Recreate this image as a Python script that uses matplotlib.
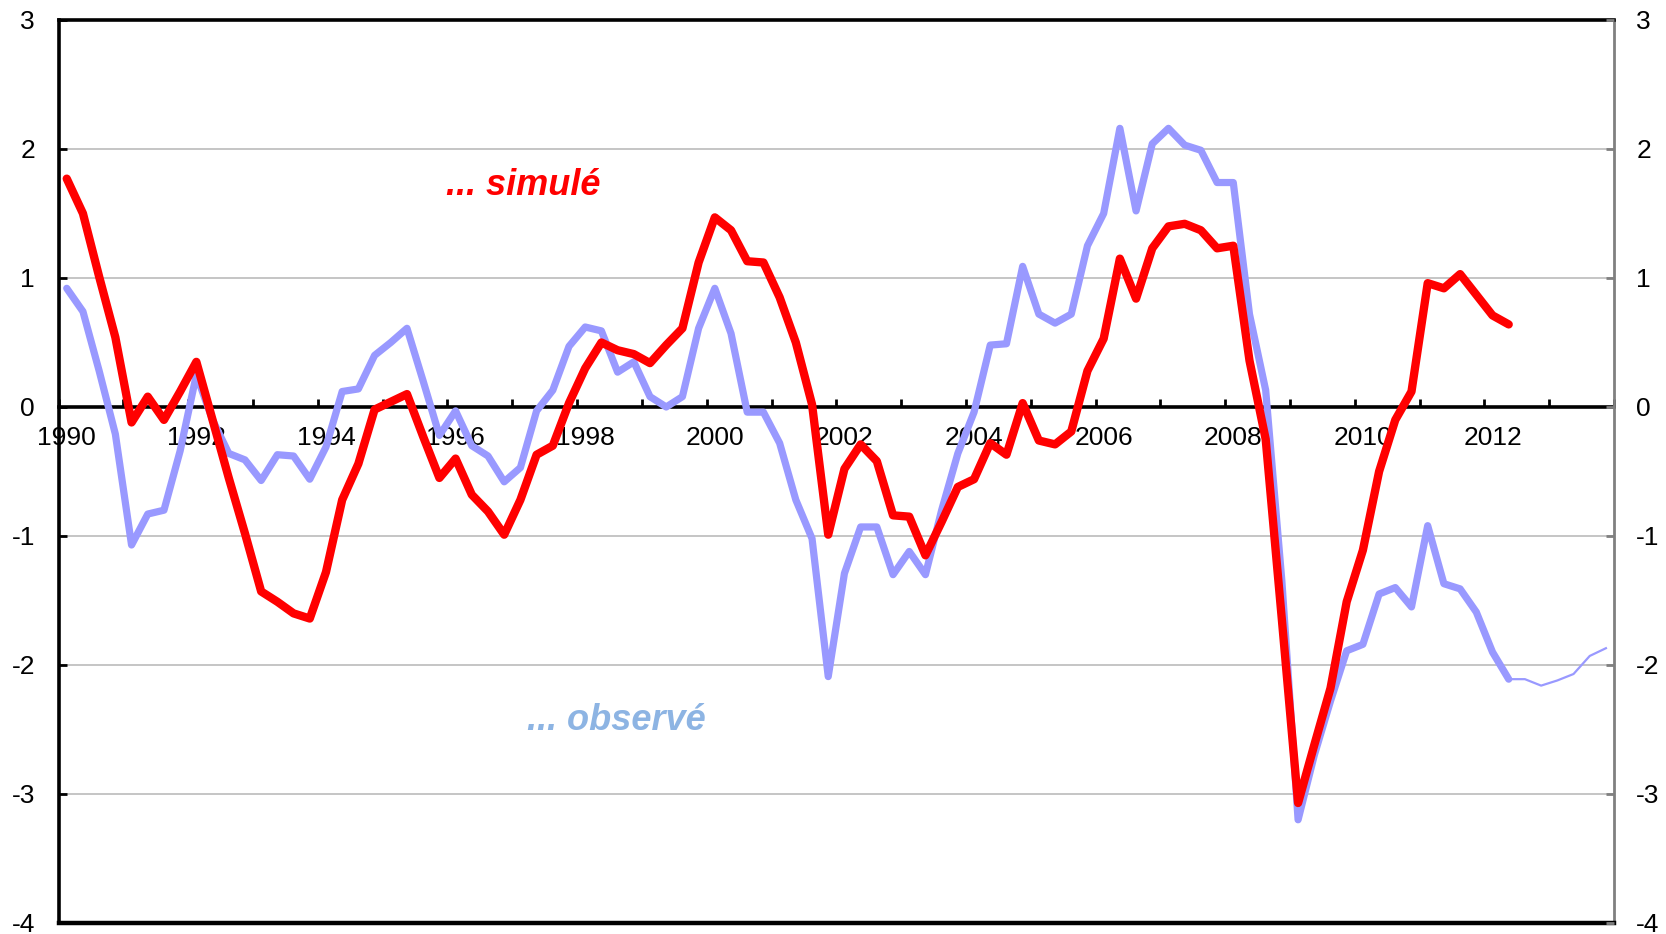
import numpy as np
import matplotlib
matplotlib.use("Agg")
import matplotlib.pyplot as plt
from matplotlib.ticker import FixedLocator, NullFormatter

plt.rcParams["font.family"] = ["Liberation Sans", "DejaVu Sans"]
plt.rcParams["axes.unicode_minus"] = False

# ---- data: quarterly, 1990Q1 .. 2013Q4 ----
years = list(range(1990, 2014))
year_labels = [str(y) for y in range(1990, 2013, 2)]

# simulé: 1990Q1 .. 2012Q2
simule = [1.77, 1.50, 1.01, 0.54, -0.12, 0.08, -0.10, 0.12,
          0.35, -0.10, -0.55, -0.98, -1.43, -1.51, -1.60, -1.64,
          -1.28, -0.72, -0.44, -0.02, 0.04, 0.10, -0.23, -0.55,
          -0.40, -0.68, -0.81, -0.99, -0.72, -0.37, -0.30, 0.03,
          0.30, 0.50, 0.44, 0.41, 0.34, 0.48, 0.61, 1.12,
          1.47, 1.37, 1.13, 1.12, 0.85, 0.50, 0.02, -0.99,
          -0.48, -0.29, -0.42, -0.84, -0.85, -1.15, -0.89, -0.62,
          -0.56, -0.28, -0.37, 0.03, -0.26, -0.29, -0.19, 0.28,
          0.53, 1.15, 0.84, 1.23, 1.40, 1.42, 1.37, 1.23,
          1.25, 0.36, -0.25, -1.65, -3.07, -2.62, -2.18, -1.51,
          -1.11, -0.50, -0.10, 0.12, 0.96, 0.92, 1.03, 0.87,
          0.71, 0.64]

# observé: 1990Q1 .. 2012Q2 (thick line)
observe = [0.92, 0.74, 0.28, -0.21, -1.07, -0.83, -0.80, -0.34,
           0.25, -0.10, -0.36, -0.41, -0.57, -0.37, -0.38, -0.56,
           -0.31, 0.12, 0.14, 0.40, 0.50, 0.61, 0.20, -0.22,
           -0.03, -0.30, -0.38, -0.58, -0.47, -0.03, 0.13, 0.47,
           0.62, 0.59, 0.27, 0.35, 0.08, 0.00, 0.08, 0.61,
           0.92, 0.57, -0.04, -0.04, -0.28, -0.72, -1.02, -2.09,
           -1.29, -0.93, -0.93, -1.30, -1.12, -1.30, -0.80, -0.36,
           -0.04, 0.48, 0.49, 1.09, 0.72, 0.65, 0.72, 1.25,
           1.50, 2.16, 1.52, 2.04, 2.16, 2.03, 1.99, 1.74,
           1.74, 0.72, 0.13, -1.35, -3.20, -2.70, -2.28, -1.89,
           -1.84, -1.45, -1.40, -1.55, -0.92, -1.37, -1.41, -1.59,
           -1.90, -2.11]

# observé, thin continuation: 2012Q2 .. 2013Q4
observe_tail = [-2.11, -2.11, -2.16, -2.12, -2.07, -1.93, -1.87]

RED = "#FF0000"
BLUE = "#9999FF"
BLUE_TXT = "#8DB4E3"
GRID = "#C0C0C0"

n_q = len(years) * 4
x_sim = np.arange(len(simule))
x_obs = np.arange(len(observe))
x_tail = np.arange(len(observe) - 1, len(observe) - 1 + len(observe_tail))

fig = plt.figure(figsize=(16.66, 9.34), dpi=100)
ax = fig.add_axes([0.0352, 0.0118, 0.9336, 0.9668])

ax.set_xlim(-0.5, n_q - 0.5)
ax.set_ylim(-4, 3)

# grid + axes frame
ax.set_yticks(range(-4, 4))
ax.yaxis.grid(True, color=GRID, linewidth=1.3)
ax.set_axisbelow(True)

ax.spines["bottom"].set_position(("data", 0))
ax.spines["bottom"].set_linewidth(2.6)
ax.spines["bottom"].set_zorder(1.5)
ax.spines["left"].set_linewidth(2.6)
ax.spines["top"].set_linewidth(2.6)
ax.spines["right"].set_color("#808080")
ax.spines["right"].set_linewidth(2)
ax.axhline(-4, color="black", linewidth=3.2, clip_on=False, zorder=5)

# x axis: tick marks between years, labels every other year
ax.xaxis.set_minor_locator(FixedLocator(np.arange(-0.5, n_q, 4)))
ax.xaxis.set_minor_formatter(NullFormatter())
ax.set_xticks(np.arange(0, 8 * len(year_labels), 8))
ax.set_xticklabels(year_labels)
ax.tick_params(axis="x", which="major", length=0, pad=14, labelsize=19)
ax.tick_params(axis="x", which="minor", direction="in", length=6,
               width=2, color="black")

ax.tick_params(axis="y", direction="in", length=6, width=2, pad=17,
               labelsize=19)

# right axis, same scale
ax2 = ax.twinx()
ax2.set_ylim(-4, 3)
ax2.set_yticks(range(-4, 4))
ax2.tick_params(axis="y", direction="in", length=6, width=2,
                color="#808080", pad=16, labelsize=19)
for s in ["left", "top", "bottom", "right"]:
    ax2.spines[s].set_visible(False)

# series
ax.plot(x_obs, observe, color=BLUE, linewidth=5.2, zorder=3,
        solid_joinstyle="round", solid_capstyle="round")
ax.plot(x_tail, observe_tail, color=BLUE, linewidth=1.6, zorder=3)
ax.plot(x_sim, simule, color=RED, linewidth=6, zorder=4,
        solid_joinstyle="round", solid_capstyle="round")

ax.text(28.2, 1.646, "... simulé", color=RED, fontsize=26,
        fontweight="bold", fontstyle="italic", ha="center", va="baseline")
ax.text(33.9, -2.506, "... observé", color=BLUE_TXT, fontsize=26,
        fontweight="bold", fontstyle="italic", ha="center", va="baseline")

fig.savefig("out.png", dpi=100)
